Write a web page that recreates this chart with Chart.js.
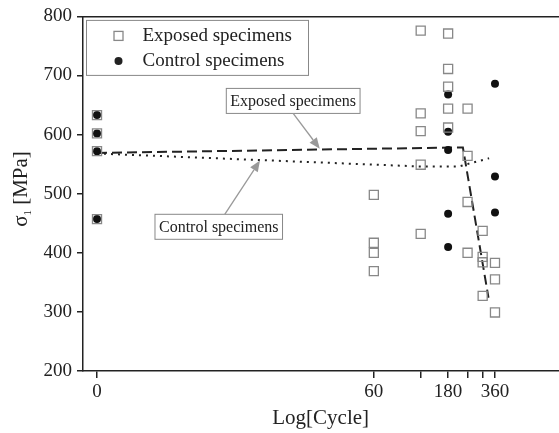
<!DOCTYPE html>
<html>
<head>
<meta charset="utf-8">
<script src="https://cdn.jsdelivr.net/npm/chart.js@4/dist/chart.umd.min.js"></script>
<style>
  html, body { margin: 0; padding: 0; background: #fff; overflow: hidden; width: 559px; height: 433px; }
  /* a bit wider than the window: the frame is cut off on the right like the original */
  #wrap { width: 566px; height: 433px; }
</style>
</head>
<body>
<div id="wrap"><canvas id="fig"></canvas></div>
<script>
// Axis: cycles are plotted on log10 scale, cycle 0 sits at log position 0
const tickCycles = [0, 60, 120, 180, 240, 300, 360];
const tickLabels = ['0', '60', '', '180', '', '', '360'];

// Exposed specimens (open squares)
const exposedCycles = [0, 0, 0, 0, 60, 60, 60, 60, 120, 120, 120, 120, 120,
  180, 180, 180, 180, 180, 240, 240, 240, 240, 300, 300, 300, 300, 360, 360, 360];
const exposedStress = [633, 602, 572, 457, 498, 417, 400, 369, 776, 636, 606, 549, 432,
  771, 711, 681, 644, 612, 644, 564, 486, 400, 437, 393, 384, 327, 383, 355, 299];

// Control specimens (filled circles)
const controlCycles = [0, 0, 0, 0, 180, 180, 180, 180, 180, 360, 360, 360];
const controlStress = [633, 602, 572, 457, 668, 605, 574, 466, 410, 686, 529, 468];

// Trend lines
const exposedTrendCycles = [0, 180, 224, 327];
const exposedTrend = [569, 578, 578, 324];
const controlTrendCycles = [0, 120, 210, 330];
const controlTrend = [568, 546, 546, 560];

const FONT = '"Liberation Serif", "Times New Roman", serif';
const lx = c => c > 0 ? Math.log10(c) : 0;
const pts = (cs, vs) => cs.map((c, i) => ({ x: lx(c), y: vs[i] }));

// Callouts: label centre and arrow tip in data units (log x, MPa)
const callouts = [
  { text: 'Exposed specimens', at: [1.26, 657], tip: [1.431, 576], tailDx: 0, side: 'bottom' },
  { text: 'Control specimens', at: [0.782, 444], tip: [1.047, 556], tailDx: 6, side: 'top' }
];

function arrow(ctx, x0, y0, x1, y1) {
  const ang = Math.atan2(y1 - y0, x1 - x0);
  const hl = 11, hw = 4.5;
  const bx = x1 - hl * Math.cos(ang), by = y1 - hl * Math.sin(ang);
  ctx.strokeStyle = '#999';
  ctx.fillStyle = '#999';
  ctx.lineWidth = 1.3;
  ctx.setLineDash([]);
  ctx.beginPath();
  ctx.moveTo(x0, y0);
  ctx.lineTo(bx, by);
  ctx.stroke();
  ctx.beginPath();
  ctx.moveTo(x1, y1);
  ctx.lineTo(bx + hw * Math.sin(ang), by - hw * Math.cos(ang));
  ctx.lineTo(bx - hw * Math.sin(ang), by + hw * Math.cos(ang));
  ctx.closePath();
  ctx.fill();
}

const noPad = s => { s.paddingLeft = 0; s.paddingRight = 0; };

const overlay = {
  id: 'overlay',
  afterDraw(chart) {
    const { ctx, chartArea: a, scales: { x, y } } = chart;
    ctx.save();

    // legend box
    const lx0 = a.left + 3.5, ly0 = a.top + 4;
    ctx.strokeStyle = '#888';
    ctx.lineWidth = 1;
    ctx.strokeRect(lx0, ly0, 222, 55);
    ctx.font = '19px ' + FONT;
    ctx.fillStyle = '#222';
    ctx.textBaseline = 'middle';
    ctx.textAlign = 'left';
    const rows = [ly0 + 15.5, ly0 + 40.5];
    ctx.strokeStyle = '#888';
    ctx.lineWidth = 1.3;
    ctx.strokeRect(lx0 + 27.5, rows[0] - 4.5, 9, 9);
    ctx.beginPath();
    ctx.arc(lx0 + 27.5 + 4.5, rows[1], 4, 0, Math.PI * 2);
    ctx.fill();
    ctx.fillText(chart.data.datasets[0].label, lx0 + 56, rows[0]);
    ctx.fillText(chart.data.datasets[1].label, lx0 + 56, rows[1]);

    // callouts
    ctx.font = '16px ' + FONT;
    callouts.forEach(c => {
      const cx = x.getPixelForValue(c.at[0]), cy = y.getPixelForValue(c.at[1]);
      const w = ctx.measureText(c.text).width + 8, h = 25;
      ctx.fillStyle = '#fff';
      ctx.fillRect(cx - w / 2, cy - h / 2, w, h);
      ctx.strokeStyle = '#888';
      ctx.lineWidth = 1;
      ctx.strokeRect(cx - w / 2, cy - h / 2, w, h);
      ctx.fillStyle = '#222';
      ctx.textAlign = 'center';
      ctx.fillText(c.text, cx, cy + 1);
      const ty = c.side === 'bottom' ? cy + h / 2 : cy - h / 2;
      arrow(ctx, cx + c.tailDx, ty, x.getPixelForValue(c.tip[0]), y.getPixelForValue(c.tip[1]));
    });

    // y title with subscript
    ctx.translate(21, 189);
    ctx.rotate(-Math.PI / 2);
    ctx.fillStyle = '#222';
    ctx.textAlign = 'left';
    ctx.textBaseline = 'alphabetic';
    ctx.font = '21px ' + FONT;
    const w1 = ctx.measureText('\u03c3').width;
    const w3 = ctx.measureText(' [MPa]').width;
    ctx.font = '11px ' + FONT;
    const w2 = ctx.measureText('1').width;
    let sx = -(w1 + w2 + w3) / 2;
    ctx.font = '21px ' + FONT;
    ctx.fillText('\u03c3', sx, 6);
    ctx.font = '11px ' + FONT;
    ctx.fillText('1', sx + w1, 10);
    ctx.font = '21px ' + FONT;
    ctx.fillText(' [MPa]', sx + w1 + w2, 6);
    ctx.restore();
  }
};

new Chart(document.getElementById('fig'), {
  type: 'scatter',
  data: {
    datasets: [{
      label: 'Exposed specimens',
      data: pts(exposedCycles, exposedStress),
      pointStyle: 'rect',
      pointRadius: 6.4,
      pointBorderWidth: 1.3,
      borderColor: '#888',
      backgroundColor: 'rgba(0,0,0,0)'
    }, {
      label: 'Control specimens',
      data: pts(controlCycles, controlStress),
      pointStyle: 'circle',
      pointRadius: 4,
      pointBorderWidth: 0,
      borderColor: '#111',
      backgroundColor: '#111'
    }, {
      label: 'Exposed trend',
      data: pts(exposedTrendCycles, exposedTrend),
      showLine: true,
      pointRadius: 0,
      borderColor: '#222',
      borderWidth: 2,
      borderDash: [10, 5]
    }, {
      label: 'Control trend',
      data: pts(controlTrendCycles, controlTrend),
      showLine: true,
      pointRadius: 0,
      borderColor: '#222',
      borderWidth: 2,
      borderDash: [2, 5]
    }]
  },
  options: {
    responsive: true,
    maintainAspectRatio: false,
    animation: false,
    layout: { padding: { top: 16, left: 0, right: 0, bottom: 0 } },
    plugins: { legend: { display: false }, tooltip: { enabled: false } },
    scales: {
      x: {
        type: 'linear',
        min: -0.09,
        max: 2.963,
        afterBuildTicks: s => { s.ticks = tickCycles.map(c => ({ value: lx(c) })); },
        afterFit: s => { s.height = 62; noPad(s); },
        ticks: {
          autoSkip: false,
          maxRotation: 0,
          padding: 3,
          color: '#222',
          font: { family: FONT, size: 19 },
          callback: (v, i) => tickLabels[i]
        },
        grid: { drawOnChartArea: false, drawTicks: true, tickLength: 7, color: '#222', lineWidth: 1.5 },
        border: { color: '#222', width: 1.5 },
        title: { display: true, text: 'Log[Cycle]', color: '#222', font: { family: FONT, size: 21 }, padding: { top: 0, bottom: 2 } }
      },
      xTop: {
        type: 'linear',
        position: 'top',
        min: -0.09,
        max: 2.963,
        afterFit: s => { s.height = 0; noPad(s); },
        ticks: { display: false },
        grid: { drawOnChartArea: false, drawTicks: false },
        border: { color: '#222', width: 1.5 }
      },
      y: {
        min: 200,
        max: 800,
        afterFit: s => { s.width = 83; },
        ticks: { stepSize: 100, padding: 5, color: '#222', font: { family: FONT, size: 19 } },
        grid: { drawOnChartArea: false, drawTicks: true, tickLength: 6, color: '#222', lineWidth: 1.5 },
        border: { color: '#222', width: 1.5 }
      }
    }
  },
  plugins: [overlay]
});
</script>
</body>
</html>
